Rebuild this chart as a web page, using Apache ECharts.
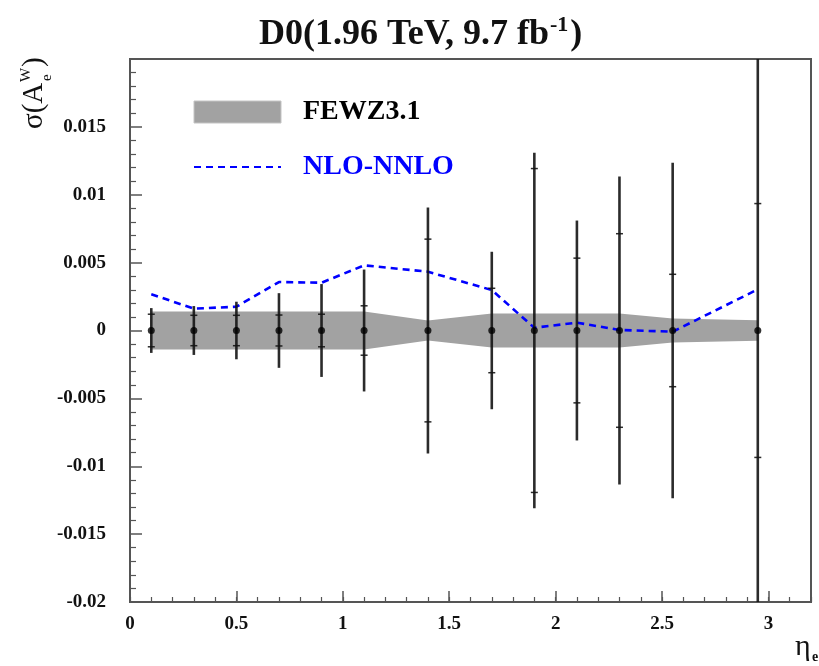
<!DOCTYPE html>
<html><head><meta charset="utf-8">
<script src="https://cdn.jsdelivr.net/npm/echarts@6/dist/echarts.min.js"></script>
<style>html,body{margin:0;padding:0;background:#fff}#c{width:819px;height:666px}</style>
</head><body><div id="c"></div>
<script>
// ---- data ----
const etaBins   = [0.1, 0.3, 0.5, 0.7, 0.9, 1.1, 1.4, 1.7, 1.9, 2.1, 2.3, 2.55, 2.95];
const central   = [0, 0, 0, 0, 0, 0, 0, 0, 0, 0, 0, 0, 0];
const errTotal  = [0.00165, 0.0018, 0.00212, 0.00275, 0.00342, 0.00449, 0.00906, 0.0058, 0.0131, 0.0081, 0.01135, 0.01236, 0.025];
const errInner  = [0.0012, 0.00112, 0.00112, 0.00114, 0.0012, 0.00182, 0.00673, 0.00311, 0.01193, 0.00533, 0.00713, 0.00414, 0.00935];
const fewzHalf  = [0.0014, 0.0014, 0.0014, 0.0014, 0.0014, 0.0014, 0.00074, 0.00126, 0.00126, 0.00126, 0.00126, 0.00089, 0.00075];
const nloNnlo   = [0.00267, 0.00161, 0.00175, 0.00357, 0.00352, 0.0048, 0.00433, 0.00298, 0.0002, 0.00058, 0.00004, -0.00009, 0.00303];
const xRange = [0, 3.2];
const yRange = [-0.02, 0.02];
const titleMain = 'D0(1.96 TeV, 9.7 fb';
const titleSup = '-1';

const SERIF = '"Liberation Serif", "Times New Roman", serif';
const chart = echarts.init(document.getElementById('c'), null, {renderer: 'canvas'});

const option = {
  backgroundColor: '#ffffff',
  animation: false,
  title: {
    left: 259, top: 14, padding: 0,
    text: '{m|' + titleMain + '}{s|' + titleSup + '}{m|)}',
    textStyle: {
      rich: {
        m: {fontFamily: SERIF, fontWeight: 'bold', fontSize: 36, color: '#111', lineHeight: 42},
        s: {fontFamily: SERIF, fontWeight: 'bold', fontSize: 22, color: '#111', verticalAlign: 'top', lineHeight: 27, padding: [0, 2, 0, 1]}
      }
    }
  },
  legend: {
    orient: 'vertical', left: 193, top: 98, padding: 0, itemWidth: 87, itemHeight: 22, itemGap: 27,
    selectedMode: false,
    textStyle: {fontFamily: SERIF, fontWeight: 'bold', fontSize: 28, padding: [0, 0, 0, 17]},
    data: [
      {name: 'FEWZ3.1', icon: 'rect', itemStyle: {color: '#a2a2a2', borderColor: '#c4c4c4', borderWidth: 1}, textStyle: {color: '#000'}},
      {name: 'NLO-NNLO', itemStyle: {color: 'rgba(0,0,0,0)', borderColor: 'rgba(0,0,0,0)', borderWidth: 0}, textStyle: {color: '#0000ff'}}
    ]
  },
  grid: {left: 130, right: 8, top: 59, bottom: 64, show: true, borderColor: '#555', borderWidth: 2, backgroundColor: 'transparent'},
  xAxis: [
    {
      type: 'value', min: xRange[0], max: xRange[1], interval: 0.5, position: 'bottom',
      axisLine: {show: true, onZero: false, lineStyle: {color: '#555', width: 2}},
      axisTick: {show: true, inside: true, length: 11, lineStyle: {color: '#555', width: 1.5}},
      axisLabel: {fontFamily: SERIF, fontWeight: 'bold', fontSize: 19, color: '#111', margin: 13, showMaxLabel: false},
      splitLine: {show: false}
    },
    {
      type: 'value', min: xRange[0], max: xRange[1], interval: 0.1, position: 'bottom', offset: 0,
      axisLine: {show: false, onZero: false},
      axisTick: {show: true, inside: true, length: 5, lineStyle: {color: '#555', width: 1.2}},
      axisLabel: {show: false},
      splitLine: {show: false}
    }
  ],
  yAxis: {
    type: 'value', min: yRange[0], max: yRange[1], interval: 0.005,
    axisLine: {show: true, onZero: false, lineStyle: {color: '#555', width: 2}},
    axisTick: {show: true, inside: true, length: 12, lineStyle: {color: '#555', width: 1.5}},
    minorTick: {show: true, splitNumber: 5, length: 6, lineStyle: {color: '#555', width: 1.2}},
    axisLabel: {fontFamily: SERIF, fontWeight: 'bold', fontSize: 19, color: '#111', margin: 24, showMaxLabel: false},
    splitLine: {show: false}
  },
  graphic: [
    {
      type: 'group', x: 49, y: 129, rotation: Math.PI / 2,
      children: [
        {type: 'text', x: 0, y: 0, style: {text: 'σ(A', fontFamily: SERIF, fontSize: 29, fill: '#111', verticalAlign: 'bottom', align: 'left'}},
        {type: 'text', x: 47, y: -15, style: {text: 'W', fontFamily: SERIF, fontSize: 15, fill: '#111', verticalAlign: 'bottom', align: 'left'}},
        {type: 'text', x: 48, y: 6, style: {text: 'e', fontFamily: SERIF, fontSize: 15, fill: '#111', verticalAlign: 'bottom', align: 'left'}},
        {type: 'text', x: 62, y: 0, style: {text: ')', fontFamily: SERIF, fontSize: 29, fill: '#111', verticalAlign: 'bottom', align: 'left'}}
      ]
    },
    {type: 'text', left: 795, top: 632, style: {text: 'η', fontFamily: SERIF, fontSize: 30, fill: '#111'}},
    {type: 'text', left: 812, top: 650, style: {text: 'e', fontFamily: SERIF, fontWeight: 'bold', fontSize: 14, fill: '#111'}}
  ],
  series: [
    {
      name: 'FEWZ3.1', type: 'custom', xAxisIndex: 0, yAxisIndex: 0,
      itemStyle: {color: '#a2a2a2'},
      data: [[etaBins[0], 0]],
      encode: {x: 0, y: 1},
      renderItem: function (params, api) {
        const pts = [];
        for (let i = 0; i < etaBins.length; i++) pts.push(api.coord([etaBins[i], central[i] + fewzHalf[i]]));
        for (let i = etaBins.length - 1; i >= 0; i--) pts.push(api.coord([etaBins[i], central[i] - fewzHalf[i]]));
        return {type: 'polygon', shape: {points: pts}, style: {fill: '#a2a2a2', stroke: null}};
      },
      z: 1
    },
    {
      name: 'NLO-NNLO', type: 'line', xAxisIndex: 0, yAxisIndex: 0,
      data: etaBins.map((x, i) => [x, nloNnlo[i]]),
      symbol: 'none', smooth: false,
      lineStyle: {color: '#0000ff', width: 2.6, type: [7, 5]},
      itemStyle: {color: '#0000ff'},
      z: 2
    },
    {
      name: 'errors', type: 'custom', xAxisIndex: 0, yAxisIndex: 0, clip: true,
      data: etaBins.map((x, i) => [x, central[i], errTotal[i], errInner[i]]),
      encode: {x: 0, y: 1},
      renderItem: function (params, api) {
        const x = api.value(0), y = api.value(1), e = api.value(2), s = api.value(3);
        const t = api.coord([x, y + e]), b = api.coord([x, y - e]);
        const st = api.coord([x, y + s]), sb = api.coord([x, y - s]);
        const hw = 3.5;
        const lc = 'rgba(20,20,20,0.9)';
        return {type: 'group', children: [
          {type: 'line', shape: {x1: t[0], y1: t[1], x2: b[0], y2: b[1]}, style: {stroke: lc, lineWidth: 2.6}},
          {type: 'line', shape: {x1: st[0] - hw, y1: st[1], x2: st[0] + hw, y2: st[1]}, style: {stroke: lc, lineWidth: 1.5}},
          {type: 'line', shape: {x1: sb[0] - hw, y1: sb[1], x2: sb[0] + hw, y2: sb[1]}, style: {stroke: lc, lineWidth: 1.5}}
        ]};
      },
      z: 3
    },
    {
      name: 'data', type: 'scatter', xAxisIndex: 0, yAxisIndex: 0,
      data: etaBins.map((x, i) => [x, central[i]]),
      symbol: 'circle', symbolSize: 7,
      itemStyle: {color: '#000'},
      z: 4
    }
  ]
};
chart.setOption(option);
</script>
</body></html>
